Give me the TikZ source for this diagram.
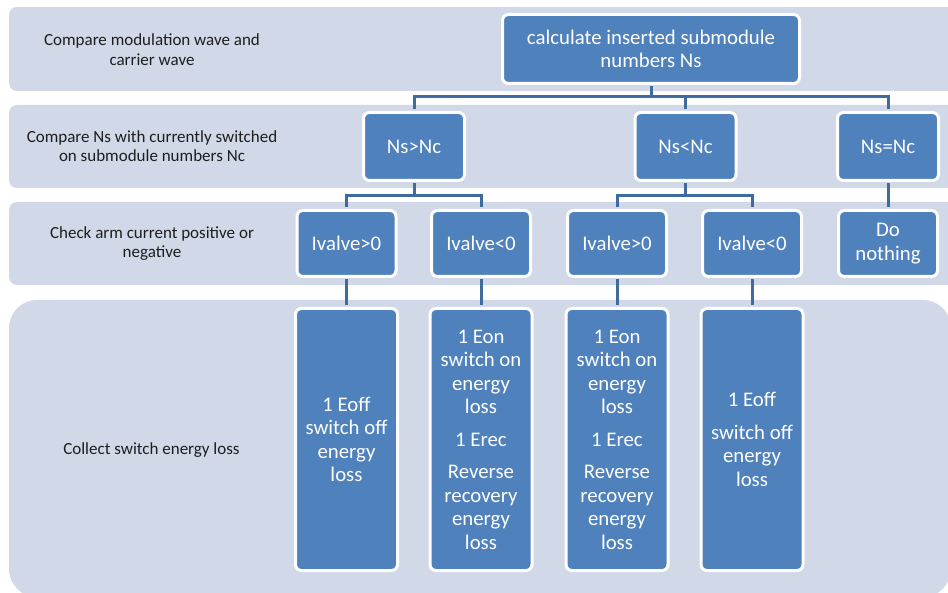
\documentclass[tikz,border=0pt]{standalone}
\usepackage{fontspec}
\setmainfont{Carlito}
\definecolor{bandfill}{HTML}{D1D8E7}
\definecolor{boxfill}{HTML}{4F81BD}
\definecolor{linecol}{HTML}{3F6B9E}
\definecolor{labeltext}{HTML}{1E1E1E}
\begin{document}
\begin{tikzpicture}[x=1pt,y=-1pt,
  band/.style={fill=bandfill, draw=none, rounded corners=8pt},
  box/.style={fill=boxfill, draw=white, line width=3pt, rounded corners=6pt,
    inner sep=0pt, align=center, text=white,
    font=\fontsize{20.8}{23.5}\selectfont},
  lvltwo/.style={box, minimum width=101pt, minimum height=68pt},
  lvlthree/.style={box, minimum width=99pt, minimum height=66pt},
  lvlfour/.style={box, minimum width=102pt, minimum height=262pt},
  lbl/.style={align=center, text=labeltext, inner sep=0pt,
    font=\fontsize{17}{19.5}\selectfont},
  conn/.style={draw=linecol, line width=3pt, shorten <=1.5pt, shorten >=1.5pt}
]
\useasboundingbox (0,0) rectangle (948,593);

% horizontal bands
\fill[band] (9,7) rectangle (970,91);
\fill[band] (9,105) rectangle (970,188);
\fill[band] (9,202) rectangle (970,285);
\fill[bandfill, rounded corners=28pt] (9,300) rectangle (951,597);

% band captions
\node[lbl] (l1) at (152,49.5) {Compare modulation wave and\\carrier wave};
\node[lbl] (l2) at (152,146) {Compare Ns with currently switched\\on submodule numbers Nc};
\node[lbl] (l3) at (152,243.5) {Check arm current positive or\\negative};
\node[lbl] (l4) at (151.5,450) {Collect switch energy loss};

% top level
\node[box, minimum width=297pt, minimum height=69pt] (top) at (651,49)
  {calculate inserted submodule\\numbers Ns};

% comparison level
\node[lvltwo] (ns1) at (414,146.5) {Ns>Nc};
\node[lvltwo] (ns2) at (685.5,146.5) {Ns<Nc};
\node[lvltwo] (ns3) at (888,146.5) {Ns=Nc};

% current direction level
\node[lvlthree] (iv1) at (346.5,243.5) {Ivalve>0};
\node[lvlthree] (iv2) at (481,243.5) {Ivalve<0};
\node[lvlthree] (iv3) at (617,243.5) {Ivalve>0};
\node[lvlthree] (iv4) at (752,243.5) {Ivalve<0};
\node[lvlthree] (dn) at (888,243.5) {Do\\nothing};

% energy loss level
\node[lvlfour] (e1) at (346.5,439.5) {1 Eoff\\switch off\\energy\\loss};
\node[lvlfour] (e2) at (481,439.5)
  {1 Eon\\switch on\\energy\\loss\\[9pt]1 Erec\\[9pt]Reverse\\recovery\\energy\\loss};
\node[lvlfour] (e3) at (617,439.5)
  {1 Eon\\switch on\\energy\\loss\\[9pt]1 Erec\\[9pt]Reverse\\recovery\\energy\\loss};
\node[lvlfour] (e4) at (752,439.5) {1 Eoff\\[9pt]switch off\\energy\\loss};

% connectors
\coordinate (b1) at (651,97);
\draw[conn] (top.south) -- (b1);
\draw[conn] (ns1.north) |- (b1) -| (ns3.north);
\draw[conn] (ns2.north) -- (ns2.north |- b1);

\coordinate (b2) at (414,196);
\draw[conn] (ns1.south) -- (b2);
\draw[conn] (iv1.north) |- (b2) -| (iv2.north);

\coordinate (b3) at (685.5,196);
\draw[conn] (ns2.south) -- (b3);
\draw[conn] (iv3.north) |- (b3) -| (iv4.north);

\draw[conn] (ns3.south) -- (dn.north);

\draw[conn] (iv1.south) -- (e1.north);
\draw[conn] (iv2.south) -- (e2.north);
\draw[conn] (iv3.south) -- (e3.north);
\draw[conn] (iv4.south) -- (e4.north);
\end{tikzpicture}
\end{document}
